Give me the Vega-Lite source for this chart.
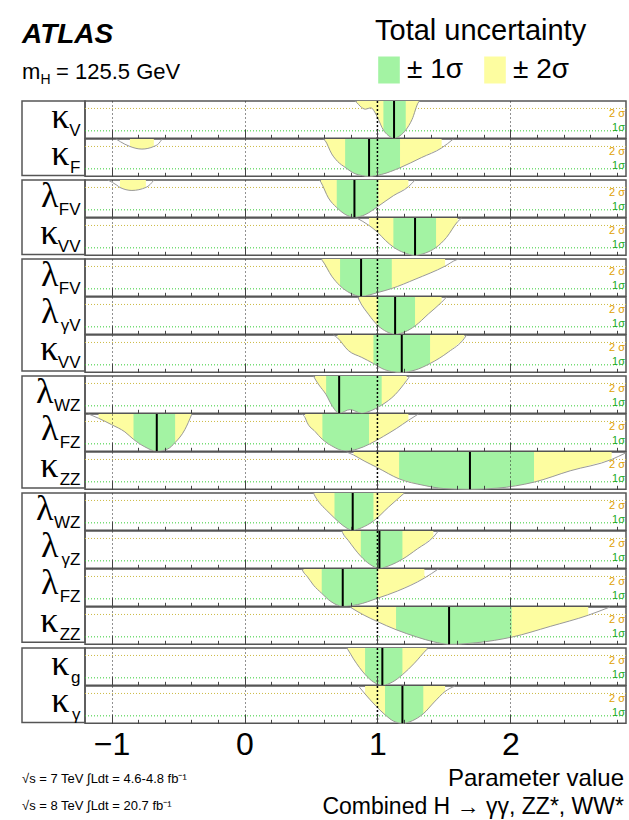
{
"$schema": "https://vega.github.io/schema/vega-lite/v6.json",
"padding": {"left": 21, "top": 17, "right": 4, "bottom": 0},
"spacing": -4,
"config": {"font": "Liberation Sans", "view": {"stroke": "#555", "strokeWidth": 1.5}},
"datasets": {
"labels": [
{"g":1,"r":"kV","sym":"κ","sub":"V"},{"g":1,"r":"kF","sym":"κ","sub":"F"},
{"g":2,"r":"lFV2","sym":"λ","sub":"FV"},{"g":2,"r":"kVV2","sym":"κ","sub":"VV"},
{"g":3,"r":"lFV3","sym":"λ","sub":"FV"},{"g":3,"r":"lgV","sym":"λ","sub":"γV"},{"g":3,"r":"kVV3","sym":"κ","sub":"VV"},
{"g":4,"r":"lWZ4","sym":"λ","sub":"WZ"},{"g":4,"r":"lFZ4","sym":"λ","sub":"FZ"},{"g":4,"r":"kZZ4","sym":"κ","sub":"ZZ"},
{"g":5,"r":"lWZ5","sym":"λ","sub":"WZ"},{"g":5,"r":"lgZ","sym":"λ","sub":"γZ"},{"g":5,"r":"lFZ5","sym":"λ","sub":"FZ"},{"g":5,"r":"kZZ5","sym":"κ","sub":"ZZ"},
{"g":6,"r":"kg","sym":"κ","sub":"g"},{"g":6,"r":"kgam","sym":"κ","sub":"γ"}
],
"fits": [
{"r":"kV","best":1.125},{"r":"kF","best":0.937},{"r":"lFV2","best":0.827},{"r":"kVV2","best":1.283},
{"r":"lFV3","best":0.877},{"r":"lgV","best":1.133},{"r":"kVV3","best":1.183},
{"r":"lWZ4","best":0.712},{"r":"lFZ4","best":-0.66},{"r":"kZZ4","best":1.696},
{"r":"lWZ5","best":0.814},{"r":"lgZ","best":1.015},{"r":"lFZ5","best":0.739},{"r":"kZZ5","best":1.539},
{"r":"kg","best":1.037},{"r":"kgam","best":1.188}
],
"curves": [
{"r":"kV","x":0.83,"y":5,"b":0},{"r":"kV","x":0.844,"y":4.8,"b":2},{"r":"kV","x":0.87,"y":4.3,"b":2},{"r":"kV","x":0.91,"y":3.9,"b":2},{"r":"kV","x":0.95,"y":4.1,"b":2},{"r":"kV","x":0.98,"y":3.5,"b":2},{"r":"kV","x":1.0,"y":2.8,"b":2},{"r":"kV","x":1.045,"y":1.1,"b":1},{"r":"kV","x":1.08,"y":0.4,"b":1},{"r":"kV","x":1.125,"y":0,"b":1},{"r":"kV","x":1.17,"y":0.35,"b":1},{"r":"kV","x":1.213,"y":1.1,"b":1},{"r":"kV","x":1.26,"y":2.5,"b":2},{"r":"kV","x":1.31,"y":4.85,"b":2},{"r":"kV","x":1.32,"y":5,"b":0},
{"r":"kF","x":0.594,"y":5,"b":0},{"r":"kF","x":0.606,"y":4.8,"b":2},{"r":"kF","x":0.656,"y":3.0,"b":2},{"r":"kF","x":0.70,"y":2.0,"b":2},{"r":"kF","x":0.757,"y":1.2,"b":1},{"r":"kF","x":0.832,"y":0.35,"b":1},{"r":"kF","x":0.937,"y":0,"b":1},{"r":"kF","x":1.03,"y":0.25,"b":1},{"r":"kF","x":1.17,"y":1.15,"b":1},{"r":"kF","x":1.33,"y":2.5,"b":2},{"r":"kF","x":1.483,"y":3.8,"b":2},{"r":"kF","x":1.571,"y":5,"b":0},
{"r":"kFb","x":-0.967,"y":5,"b":0},{"r":"kFb","x":-0.9,"y":4.3,"b":0},{"r":"kFb","x":-0.862,"y":4.0,"b":2},{"r":"kFb","x":-0.772,"y":3.65,"b":2},{"r":"kFb","x":-0.682,"y":4.0,"b":2},{"r":"kFb","x":-0.645,"y":4.4,"b":0},{"r":"kFb","x":-0.62,"y":5,"b":0},
{"r":"lFV2","x":0.564,"y":5,"b":0},{"r":"lFV2","x":0.575,"y":4.7,"b":2},{"r":"lFV2","x":0.631,"y":2.6,"b":2},{"r":"lFV2","x":0.694,"y":1.3,"b":1},{"r":"lFV2","x":0.757,"y":0.4,"b":1},{"r":"lFV2","x":0.827,"y":0,"b":1},{"r":"lFV2","x":0.907,"y":0.35,"b":1},{"r":"lFV2","x":1.007,"y":1.5,"b":1},{"r":"lFV2","x":1.12,"y":2.9,"b":2},{"r":"lFV2","x":1.233,"y":4.1,"b":2},{"r":"lFV2","x":1.283,"y":5,"b":0},
{"r":"lFV2b","x":-1.028,"y":5,"b":0},{"r":"lFV2b","x":-0.96,"y":4.3,"b":0},{"r":"lFV2b","x":-0.937,"y":4.0,"b":2},{"r":"lFV2b","x":-0.847,"y":3.6,"b":2},{"r":"lFV2b","x":-0.742,"y":4.0,"b":2},{"r":"lFV2b","x":-0.71,"y":4.4,"b":0},{"r":"lFV2b","x":-0.682,"y":5,"b":0},
{"r":"kVV2","x":0.844,"y":5,"b":0},{"r":"kVV2","x":0.937,"y":4.0,"b":2},{"r":"kVV2","x":1.0,"y":3.1,"b":2},{"r":"kVV2","x":1.06,"y":2.0,"b":2},{"r":"kVV2","x":1.12,"y":1.1,"b":1},{"r":"kVV2","x":1.2,"y":0.35,"b":1},{"r":"kVV2","x":1.283,"y":0,"b":1},{"r":"kVV2","x":1.36,"y":0.3,"b":1},{"r":"kVV2","x":1.441,"y":1.05,"b":1},{"r":"kVV2","x":1.52,"y":2.4,"b":2},{"r":"kVV2","x":1.603,"y":4.5,"b":2},{"r":"kVV2","x":1.634,"y":5,"b":0},
{"r":"lFV3","x":0.575,"y":5,"b":0},{"r":"lFV3","x":0.585,"y":4.8,"b":2},{"r":"lFV3","x":0.656,"y":2.7,"b":2},{"r":"lFV3","x":0.719,"y":1.4,"b":1},{"r":"lFV3","x":0.794,"y":0.44,"b":1},{"r":"lFV3","x":0.877,"y":0,"b":1},{"r":"lFV3","x":1.007,"y":0.53,"b":1},{"r":"lFV3","x":1.108,"y":1.05,"b":1},{"r":"lFV3","x":1.283,"y":2.28,"b":2},{"r":"lFV3","x":1.509,"y":4.04,"b":2},{"r":"lFV3","x":1.596,"y":4.9,"b":0},{"r":"lFV3","x":1.62,"y":5,"b":0},
{"r":"lgV","x":0.852,"y":5,"b":0},{"r":"lgV","x":0.862,"y":4.6,"b":2},{"r":"lgV","x":0.932,"y":2.7,"b":2},{"r":"lgV","x":1.002,"y":1.2,"b":1},{"r":"lgV","x":1.07,"y":0.34,"b":1},{"r":"lgV","x":1.133,"y":0,"b":1},{"r":"lgV","x":1.208,"y":0.34,"b":1},{"r":"lgV","x":1.283,"y":1.12,"b":1},{"r":"lgV","x":1.383,"y":2.72,"b":2},{"r":"lgV","x":1.483,"y":4.3,"b":2},{"r":"lgV","x":1.521,"y":5,"b":0},
{"r":"kVV3","x":0.669,"y":5,"b":0},{"r":"kVV3","x":0.70,"y":4.6,"b":2},{"r":"kVV3","x":0.782,"y":2.9,"b":2},{"r":"kVV3","x":0.882,"y":2.0,"b":2},{"r":"kVV3","x":0.97,"y":1.18,"b":1},{"r":"kVV3","x":1.032,"y":0.53,"b":1},{"r":"kVV3","x":1.108,"y":0.09,"b":1},{"r":"kVV3","x":1.183,"y":0,"b":1},{"r":"kVV3","x":1.283,"y":0.3,"b":1},{"r":"kVV3","x":1.396,"y":1.18,"b":1},{"r":"kVV3","x":1.534,"y":2.72,"b":2},{"r":"kVV3","x":1.654,"y":4.56,"b":2},{"r":"kVV3","x":1.671,"y":5,"b":0},
{"r":"lWZ4","x":0.519,"y":5,"b":0},{"r":"lWZ4","x":0.531,"y":4.6,"b":2},{"r":"lWZ4","x":0.56,"y":3.8,"b":2},{"r":"lWZ4","x":0.614,"y":2.5,"b":1},{"r":"lWZ4","x":0.656,"y":1.1,"b":1},{"r":"lWZ4","x":0.712,"y":0,"b":1},{"r":"lWZ4","x":0.794,"y":0.5,"b":1},{"r":"lWZ4","x":0.882,"y":0,"b":1},{"r":"lWZ4","x":0.944,"y":0.3,"b":1},{"r":"lWZ4","x":1.032,"y":1.1,"b":1},{"r":"lWZ4","x":1.133,"y":2.5,"b":2},{"r":"lWZ4","x":1.22,"y":4.4,"b":2},{"r":"lWZ4","x":1.245,"y":5,"b":0},
{"r":"lFZ4","x":0.431,"y":5,"b":0},{"r":"lFZ4","x":0.456,"y":4.5,"b":2},{"r":"lFZ4","x":0.47,"y":3.9,"b":2},{"r":"lFZ4","x":0.531,"y":2.65,"b":2},{"r":"lFZ4","x":0.586,"y":1.6,"b":1},{"r":"lFZ4","x":0.656,"y":0.73,"b":1},{"r":"lFZ4","x":0.757,"y":0.05,"b":1},{"r":"lFZ4","x":0.849,"y":0.3,"b":1},{"r":"lFZ4","x":0.937,"y":0.94,"b":1},{"r":"lFZ4","x":1.045,"y":2.0,"b":2},{"r":"lFZ4","x":1.145,"y":3.08,"b":2},{"r":"lFZ4","x":1.233,"y":4.15,"b":2},{"r":"lFZ4","x":1.308,"y":5,"b":0},
{"r":"lFZ4b","x":-1.173,"y":5,"b":0},{"r":"lFZ4b","x":-1.098,"y":4.43,"b":2},{"r":"lFZ4b","x":-1.0,"y":3.57,"b":2},{"r":"lFZ4b","x":-0.9,"y":2.6,"b":2},{"r":"lFZ4b","x":-0.835,"y":1.6,"b":1},{"r":"lFZ4b","x":-0.75,"y":0.6,"b":1},{"r":"lFZ4b","x":-0.66,"y":0,"b":1},{"r":"lFZ4b","x":-0.579,"y":0.3,"b":1},{"r":"lFZ4b","x":-0.522,"y":1.17,"b":1},{"r":"lFZ4b","x":-0.449,"y":2.9,"b":2},{"r":"lFZ4b","x":-0.396,"y":5,"b":2},
{"r":"kZZ4","x":0.769,"y":5,"b":0},{"r":"kZZ4","x":0.82,"y":4.6,"b":2},{"r":"kZZ4","x":0.9,"y":3.8,"b":2},{"r":"kZZ4","x":1.0,"y":2.9,"b":2},{"r":"kZZ4","x":1.163,"y":1.4,"b":1},{"r":"kZZ4","x":1.351,"y":0.52,"b":1},{"r":"kZZ4","x":1.5,"y":0.1,"b":1},{"r":"kZZ4","x":1.696,"y":0,"b":1},{"r":"kZZ4","x":1.9,"y":0.15,"b":1},{"r":"kZZ4","x":2.178,"y":0.96,"b":1},{"r":"kZZ4","x":2.45,"y":2.48,"b":2},{"r":"kZZ4","x":2.762,"y":4.0,"b":2},{"r":"kZZ4","x":2.87,"y":4.9,"b":0},
{"r":"lWZ5","x":0.519,"y":5,"b":0},{"r":"lWZ5","x":0.524,"y":4.8,"b":2},{"r":"lWZ5","x":0.561,"y":3.76,"b":2},{"r":"lWZ5","x":0.619,"y":2.65,"b":2},{"r":"lWZ5","x":0.677,"y":1.64,"b":1},{"r":"lWZ5","x":0.739,"y":0.66,"b":1},{"r":"lWZ5","x":0.814,"y":0,"b":1},{"r":"lWZ5","x":0.882,"y":0.35,"b":1},{"r":"lWZ5","x":0.97,"y":1.24,"b":1},{"r":"lWZ5","x":1.083,"y":3.1,"b":2},{"r":"lWZ5","x":1.203,"y":5,"b":2},
{"r":"lgZ","x":0.732,"y":5,"b":0},{"r":"lgZ","x":0.737,"y":4.8,"b":2},{"r":"lgZ","x":0.782,"y":3.7,"b":2},{"r":"lgZ","x":0.875,"y":1.61,"b":1},{"r":"lgZ","x":0.94,"y":0.57,"b":1},{"r":"lgZ","x":1.015,"y":0,"b":1},{"r":"lgZ","x":1.1,"y":0.43,"b":1},{"r":"lgZ","x":1.188,"y":1.22,"b":1},{"r":"lgZ","x":1.3,"y":2.6,"b":2},{"r":"lgZ","x":1.421,"y":4.2,"b":2},{"r":"lgZ","x":1.458,"y":5,"b":0},
{"r":"lFZ5","x":0.431,"y":5,"b":0},{"r":"lFZ5","x":0.443,"y":4.6,"b":2},{"r":"lFZ5","x":0.47,"y":4.04,"b":2},{"r":"lFZ5","x":0.519,"y":2.83,"b":2},{"r":"lFZ5","x":0.581,"y":1.74,"b":1},{"r":"lFZ5","x":0.649,"y":0.65,"b":1},{"r":"lFZ5","x":0.739,"y":0,"b":1},{"r":"lFZ5","x":0.849,"y":0.22,"b":1},{"r":"lFZ5","x":1.002,"y":1.09,"b":1},{"r":"lFZ5","x":1.15,"y":2.04,"b":2},{"r":"lFZ5","x":1.353,"y":3.78,"b":2},{"r":"lFZ5","x":1.458,"y":5,"b":0},
{"r":"kZZ5","x":0.794,"y":5,"b":0},{"r":"kZZ5","x":0.807,"y":4.85,"b":2},{"r":"kZZ5","x":0.9,"y":3.9,"b":2},{"r":"kZZ5","x":1.0,"y":3.04,"b":2},{"r":"kZZ5","x":1.14,"y":1.96,"b":1},{"r":"kZZ5","x":1.3,"y":0.96,"b":1},{"r":"kZZ5","x":1.42,"y":0.35,"b":1},{"r":"kZZ5","x":1.539,"y":0,"b":1},{"r":"kZZ5","x":1.749,"y":0.22,"b":1},{"r":"kZZ5","x":2.01,"y":0.96,"b":1},{"r":"kZZ5","x":2.3,"y":2.4,"b":2},{"r":"kZZ5","x":2.586,"y":3.9,"b":2},{"r":"kZZ5","x":2.749,"y":5,"b":0},
{"r":"kg","x":0.769,"y":5,"b":0},{"r":"kg","x":0.777,"y":4.8,"b":2},{"r":"kg","x":0.82,"y":3.54,"b":2},{"r":"kg","x":0.907,"y":1.46,"b":1},{"r":"kg","x":0.97,"y":0.44,"b":1},{"r":"kg","x":1.037,"y":0,"b":1},{"r":"kg","x":1.113,"y":0.44,"b":1},{"r":"kg","x":1.188,"y":1.42,"b":1},{"r":"kg","x":1.278,"y":2.96,"b":2},{"r":"kg","x":1.371,"y":4.8,"b":2},{"r":"kg","x":1.383,"y":5,"b":0},
{"r":"kgam","x":0.857,"y":5,"b":0},{"r":"kgam","x":0.907,"y":3.93,"b":2},{"r":"kgam","x":0.982,"y":2.44,"b":2},{"r":"kgam","x":1.057,"y":1.15,"b":1},{"r":"kgam","x":1.12,"y":0.3,"b":1},{"r":"kgam","x":1.188,"y":0,"b":1},{"r":"kgam","x":1.263,"y":0.35,"b":1},{"r":"kgam","x":1.345,"y":1.28,"b":1},{"r":"kgam","x":1.428,"y":2.86,"b":2},{"r":"kgam","x":1.509,"y":4.27,"b":2},{"r":"kgam","x":1.584,"y":5,"b":0}
]
},
"vconcat": [
{"width": 604, "height": 84, "view": {"stroke": null}, "data": {"values": [{}]},
 "layer": [
  {"mark": {"type": "text", "text": "ATLAS", "align": "left", "baseline": "alphabetic", "dx": -302, "dy": -16, "fontSize": 28, "fontWeight": "bold", "fontStyle": "italic"}, "encoding": {}},
  {"mark": {"type": "text", "text": "m", "align": "left", "baseline": "alphabetic", "dx": -302, "dy": 20, "fontSize": 22}, "encoding": {}},
  {"mark": {"type": "text", "text": "H", "align": "left", "baseline": "alphabetic", "dx": -283.5, "dy": 25, "fontSize": 14}, "encoding": {}},
  {"mark": {"type": "text", "text": "= 125.5 GeV", "align": "left", "baseline": "alphabetic", "dx": -268, "dy": 20, "fontSize": 22}, "encoding": {}}
 ]},
{"spacing": 0, "bounds": "flush", "hconcat": [
 {"width": 63, "height": 74.6, "data": {"name": "labels"}, "transform": [{"filter": {"field": "g", "equal": 1}}],
  "encoding": {"y": {"field": "r", "type": "nominal", "sort": null, "axis": null}},
  "layer": [
   {"mark": {"type": "text", "align": "right", "baseline": "alphabetic", "dx": 27, "dy": 16, "fontSize": 17}, "encoding": {"text": {"field": "sub"}}},
   {"transform": [{"filter": "length(datum.sub) == 1"}], "mark": {"type": "text", "align": "right", "baseline": "alphabetic", "dx": 16, "dy": 8, "fontSize": 36, "font": "Liberation Serif"}, "encoding": {"text": {"field": "sym"}}},
   {"transform": [{"filter": "length(datum.sub) == 2 && datum.sub != 'WZ'"}], "mark": {"type": "text", "align": "right", "baseline": "alphabetic", "dx": 5, "dy": 8, "fontSize": 36, "font": "Liberation Serif"}, "encoding": {"text": {"field": "sym"}}},
   {"transform": [{"filter": "datum.sub == 'WZ'"}], "mark": {"type": "text", "align": "right", "baseline": "alphabetic", "dx": 0, "dy": 8, "fontSize": 36, "font": "Liberation Serif"}, "encoding": {"text": {"field": "sym"}}}
  ]},
 {"spacing": 0, "bounds": "flush", "vconcat": [
  {"width": 541, "height": 37.3, "resolve": {"axis": {"x": "independent"}}, "layer": [
   {"data": {"values": [{}]}, "mark": {"type": "rule", "color": "#ccbb44", "strokeDash": [1, 2], "strokeWidth": 1}, "encoding": {"y": {"datum": 4, "type": "quantitative", "scale": {"domain": [0, 5], "nice": false, "zero": false}, "axis": null}}},
   {"data": {"values": [{}]}, "mark": {"type": "rule", "color": "#33cc33", "strokeDash": [1, 2], "strokeWidth": 1}, "encoding": {"y": {"datum": 1, "type": "quantitative", "axis": null}}},
   {"data": {"name": "curves"}, "transform": [{"filter": {"field": "r", "equal": "kV"}}, {"filter": "datum.b > 0"}], "mark": {"type": "area", "opacity": 1, "interpolate": "monotone"}, "encoding": {"x": {"field": "x", "type": "quantitative", "scale": {"domain": [-1.2, 2.87], "nice": false, "zero": false}, "axis": {"orient": "bottom", "values": [-1,-0.8,-0.6,-0.4,-0.2,0,0.2,0.4,0.6,0.8,1,1.2,1.4,1.6,1.8,2,2.2,2.4,2.6,2.8], "offset": -4, "tickSize": 4, "tickColor": "#444", "domain": false, "labels": false, "grid": false, "title": null, "zindex": 1}}, "y": {"field": "y", "type": "quantitative", "axis": null}, "y2": {"datum": 5}, "detail": {"field": "r"}, "color": {"datum": "± 2σ", "scale": {"domain": ["± 1σ", "± 2σ"], "range": ["#a3f3a3", "#fdfda0"]}, "legend": {"title": "Total uncertainty", "titleLimit": 400, "orient": "none", "legendX": 353, "legendY": 0, "direction": "horizontal", "columns": 2, "symbolType": "M-0.8,-1H0.8V1H-0.8Z", "symbolSize": 729, "symbolStrokeWidth": 0, "symbolOpacity": 1, "labelFontSize": 28, "labelColor": "#000", "titleFontSize": 29, "titleFontWeight": "normal", "titleColor": "#000", "titlePadding": 10, "columnPadding": 18, "labelOffset": 4, "padding": 0}}}},
   {"data": {"name": "curves"}, "transform": [{"filter": {"field": "r", "equal": "kV"}}, {"filter": "datum.b == 1"}], "mark": {"type": "area", "opacity": 1, "interpolate": "monotone"}, "encoding": {"x": {"field": "x", "type": "quantitative", "axis": {"orient": "bottom", "values": [-1,0,1,2], "offset": -9, "tickSize": 9, "tickColor": "#444", "domain": false, "labels": false, "grid": false, "title": null, "zindex": 1}}, "y": {"field": "y", "type": "quantitative", "axis": null}, "y2": {"datum": 5}, "detail": {"field": "r"}, "color": {"datum": "± 1σ"}}},
   {"data": {"name": "curves"}, "transform": [{"filter": {"field": "r", "equal": "kV"}}], "mark": {"type": "line", "color": "#999", "strokeWidth": 1, "interpolate": "monotone"}, "encoding": {"x": {"field": "x", "type": "quantitative", "axis": {"orient": "bottom", "values": [-1,0,2], "ticks": false, "domain": false, "labels": false, "grid": true, "gridDash": [1, 3], "gridColor": "#222", "title": null, "zindex": 1}}, "y": {"field": "y", "type": "quantitative", "axis": null}, "detail": {"field": "r"}}},
   {"data": {"values": [{}]}, "mark": {"type": "rule", "color": "#000", "strokeDash": [2, 2], "strokeWidth": 1.5}, "encoding": {"x": {"datum": 1, "type": "quantitative", "axis": null}}},
   {"data": {"name": "fits"}, "transform": [{"filter": {"field": "r", "equal": "kV"}}], "mark": {"type": "rule", "color": "#000", "strokeWidth": 2}, "encoding": {"x": {"field": "best", "type": "quantitative", "axis": null}}},
   {"data": {"values": [{}]}, "mark": {"type": "text", "text": "2 σ", "align": "right", "baseline": "top", "dx": -1, "dy": 0, "fontSize": 11, "color": "#e0a000"}, "encoding": {"x": {"datum": 2.87, "type": "quantitative", "axis": null}, "y": {"datum": 4, "type": "quantitative", "axis": null}}},
   {"data": {"values": [{}]}, "mark": {"type": "text", "text": "1σ", "align": "right", "baseline": "bottom", "dx": -1, "dy": 2, "fontSize": 11, "color": "#22aa22"}, "encoding": {"x": {"datum": 2.87, "type": "quantitative", "axis": null}, "y": {"datum": 1, "type": "quantitative", "axis": null}}}
  ]},
  {"width": 541, "height": 37.3, "resolve": {"axis": {"x": "independent"}}, "layer": [
   {"data": {"values": [{}]}, "mark": {"type": "rule", "color": "#ccbb44", "strokeDash": [1, 2], "strokeWidth": 1}, "encoding": {"y": {"datum": 4, "type": "quantitative", "scale": {"domain": [0, 5], "nice": false, "zero": false}, "axis": null}}},
   {"data": {"values": [{}]}, "mark": {"type": "rule", "color": "#33cc33", "strokeDash": [1, 2], "strokeWidth": 1}, "encoding": {"y": {"datum": 1, "type": "quantitative", "axis": null}}},
   {"data": {"name": "curves"}, "transform": [{"filter": {"field": "r", "oneOf": ["kF", "kFb"]}}, {"filter": "datum.b > 0"}], "mark": {"type": "area", "opacity": 1, "interpolate": "monotone"}, "encoding": {"x": {"field": "x", "type": "quantitative", "scale": {"domain": [-1.2, 2.87], "nice": false, "zero": false}, "axis": {"orient": "bottom", "values": [-1,-0.8,-0.6,-0.4,-0.2,0,0.2,0.4,0.6,0.8,1,1.2,1.4,1.6,1.8,2,2.2,2.4,2.6,2.8], "offset": -4, "tickSize": 4, "tickColor": "#444", "domain": false, "labels": false, "grid": false, "title": null, "zindex": 1}}, "y": {"field": "y", "type": "quantitative", "axis": null}, "y2": {"datum": 5}, "detail": {"field": "r"}, "color": {"datum": "± 2σ"}}},
   {"data": {"name": "curves"}, "transform": [{"filter": {"field": "r", "oneOf": ["kF", "kFb"]}}, {"filter": "datum.b == 1"}], "mark": {"type": "area", "opacity": 1, "interpolate": "monotone"}, "encoding": {"x": {"field": "x", "type": "quantitative", "axis": {"orient": "bottom", "values": [-1,0,1,2], "offset": -9, "tickSize": 9, "tickColor": "#444", "domain": false, "labels": false, "grid": false, "title": null, "zindex": 1}}, "y": {"field": "y", "type": "quantitative", "axis": null}, "y2": {"datum": 5}, "detail": {"field": "r"}, "color": {"datum": "± 1σ"}}},
   {"data": {"name": "curves"}, "transform": [{"filter": {"field": "r", "oneOf": ["kF", "kFb"]}}], "mark": {"type": "line", "color": "#999", "strokeWidth": 1, "interpolate": "monotone"}, "encoding": {"x": {"field": "x", "type": "quantitative", "axis": {"orient": "bottom", "values": [-1,0,2], "ticks": false, "domain": false, "labels": false, "grid": true, "gridDash": [1, 3], "gridColor": "#222", "title": null, "zindex": 1}}, "y": {"field": "y", "type": "quantitative", "axis": null}, "detail": {"field": "r"}}},
   {"data": {"values": [{}]}, "mark": {"type": "rule", "color": "#000", "strokeDash": [2, 2], "strokeWidth": 1.5}, "encoding": {"x": {"datum": 1, "type": "quantitative", "axis": null}}},
   {"data": {"name": "fits"}, "transform": [{"filter": {"field": "r", "equal": "kF"}}], "mark": {"type": "rule", "color": "#000", "strokeWidth": 2}, "encoding": {"x": {"field": "best", "type": "quantitative", "axis": null}}},
   {"data": {"values": [{}]}, "mark": {"type": "text", "text": "2 σ", "align": "right", "baseline": "top", "dx": -1, "dy": 0, "fontSize": 11, "color": "#e0a000"}, "encoding": {"x": {"datum": 2.87, "type": "quantitative", "axis": null}, "y": {"datum": 4, "type": "quantitative", "axis": null}}},
   {"data": {"values": [{}]}, "mark": {"type": "text", "text": "1σ", "align": "right", "baseline": "bottom", "dx": -1, "dy": 2, "fontSize": 11, "color": "#22aa22"}, "encoding": {"x": {"datum": 2.87, "type": "quantitative", "axis": null}, "y": {"datum": 1, "type": "quantitative", "axis": null}}}
  ]}
 ]}
]},
{"spacing": 0, "bounds": "flush", "hconcat": [
 {"width": 63, "height": 74.6, "data": {"name": "labels"}, "transform": [{"filter": {"field": "g", "equal": 2}}],
  "encoding": {"y": {"field": "r", "type": "nominal", "sort": null, "axis": null}},
  "layer": [
   {"mark": {"type": "text", "align": "right", "baseline": "alphabetic", "dx": 27, "dy": 16, "fontSize": 17}, "encoding": {"text": {"field": "sub"}}},
   {"transform": [{"filter": "length(datum.sub) == 1"}], "mark": {"type": "text", "align": "right", "baseline": "alphabetic", "dx": 16, "dy": 8, "fontSize": 36, "font": "Liberation Serif"}, "encoding": {"text": {"field": "sym"}}},
   {"transform": [{"filter": "length(datum.sub) == 2 && datum.sub != 'WZ'"}], "mark": {"type": "text", "align": "right", "baseline": "alphabetic", "dx": 5, "dy": 8, "fontSize": 36, "font": "Liberation Serif"}, "encoding": {"text": {"field": "sym"}}},
   {"transform": [{"filter": "datum.sub == 'WZ'"}], "mark": {"type": "text", "align": "right", "baseline": "alphabetic", "dx": 0, "dy": 8, "fontSize": 36, "font": "Liberation Serif"}, "encoding": {"text": {"field": "sym"}}}
  ]},
 {"spacing": 0, "bounds": "flush", "vconcat": [
  {"width": 541, "height": 37.3, "resolve": {"axis": {"x": "independent"}}, "layer": [
   {"data": {"values": [{}]}, "mark": {"type": "rule", "color": "#ccbb44", "strokeDash": [1, 2], "strokeWidth": 1}, "encoding": {"y": {"datum": 4, "type": "quantitative", "scale": {"domain": [0, 5], "nice": false, "zero": false}, "axis": null}}},
   {"data": {"values": [{}]}, "mark": {"type": "rule", "color": "#33cc33", "strokeDash": [1, 2], "strokeWidth": 1}, "encoding": {"y": {"datum": 1, "type": "quantitative", "axis": null}}},
   {"data": {"name": "curves"}, "transform": [{"filter": {"field": "r", "oneOf": ["lFV2", "lFV2b"]}}, {"filter": "datum.b > 0"}], "mark": {"type": "area", "opacity": 1, "interpolate": "monotone"}, "encoding": {"x": {"field": "x", "type": "quantitative", "scale": {"domain": [-1.2, 2.87], "nice": false, "zero": false}, "axis": {"orient": "bottom", "values": [-1,-0.8,-0.6,-0.4,-0.2,0,0.2,0.4,0.6,0.8,1,1.2,1.4,1.6,1.8,2,2.2,2.4,2.6,2.8], "offset": -4, "tickSize": 4, "tickColor": "#444", "domain": false, "labels": false, "grid": false, "title": null, "zindex": 1}}, "y": {"field": "y", "type": "quantitative", "axis": null}, "y2": {"datum": 5}, "detail": {"field": "r"}, "color": {"datum": "± 2σ"}}},
   {"data": {"name": "curves"}, "transform": [{"filter": {"field": "r", "oneOf": ["lFV2", "lFV2b"]}}, {"filter": "datum.b == 1"}], "mark": {"type": "area", "opacity": 1, "interpolate": "monotone"}, "encoding": {"x": {"field": "x", "type": "quantitative", "axis": {"orient": "bottom", "values": [-1,0,1,2], "offset": -9, "tickSize": 9, "tickColor": "#444", "domain": false, "labels": false, "grid": false, "title": null, "zindex": 1}}, "y": {"field": "y", "type": "quantitative", "axis": null}, "y2": {"datum": 5}, "detail": {"field": "r"}, "color": {"datum": "± 1σ"}}},
   {"data": {"name": "curves"}, "transform": [{"filter": {"field": "r", "oneOf": ["lFV2", "lFV2b"]}}], "mark": {"type": "line", "color": "#999", "strokeWidth": 1, "interpolate": "monotone"}, "encoding": {"x": {"field": "x", "type": "quantitative", "axis": {"orient": "bottom", "values": [-1,0,2], "ticks": false, "domain": false, "labels": false, "grid": true, "gridDash": [1, 3], "gridColor": "#222", "title": null, "zindex": 1}}, "y": {"field": "y", "type": "quantitative", "axis": null}, "detail": {"field": "r"}}},
   {"data": {"values": [{}]}, "mark": {"type": "rule", "color": "#000", "strokeDash": [2, 2], "strokeWidth": 1.5}, "encoding": {"x": {"datum": 1, "type": "quantitative", "axis": null}}},
   {"data": {"name": "fits"}, "transform": [{"filter": {"field": "r", "equal": "lFV2"}}], "mark": {"type": "rule", "color": "#000", "strokeWidth": 2}, "encoding": {"x": {"field": "best", "type": "quantitative", "axis": null}}},
   {"data": {"values": [{}]}, "mark": {"type": "text", "text": "2 σ", "align": "right", "baseline": "top", "dx": -1, "dy": 0, "fontSize": 11, "color": "#e0a000"}, "encoding": {"x": {"datum": 2.87, "type": "quantitative", "axis": null}, "y": {"datum": 4, "type": "quantitative", "axis": null}}},
   {"data": {"values": [{}]}, "mark": {"type": "text", "text": "1σ", "align": "right", "baseline": "bottom", "dx": -1, "dy": 2, "fontSize": 11, "color": "#22aa22"}, "encoding": {"x": {"datum": 2.87, "type": "quantitative", "axis": null}, "y": {"datum": 1, "type": "quantitative", "axis": null}}}
  ]},
  {"width": 541, "height": 37.3, "resolve": {"axis": {"x": "independent"}}, "layer": [
   {"data": {"values": [{}]}, "mark": {"type": "rule", "color": "#ccbb44", "strokeDash": [1, 2], "strokeWidth": 1}, "encoding": {"y": {"datum": 4, "type": "quantitative", "scale": {"domain": [0, 5], "nice": false, "zero": false}, "axis": null}}},
   {"data": {"values": [{}]}, "mark": {"type": "rule", "color": "#33cc33", "strokeDash": [1, 2], "strokeWidth": 1}, "encoding": {"y": {"datum": 1, "type": "quantitative", "axis": null}}},
   {"data": {"name": "curves"}, "transform": [{"filter": {"field": "r", "equal": "kVV2"}}, {"filter": "datum.b > 0"}], "mark": {"type": "area", "opacity": 1, "interpolate": "monotone"}, "encoding": {"x": {"field": "x", "type": "quantitative", "scale": {"domain": [-1.2, 2.87], "nice": false, "zero": false}, "axis": {"orient": "bottom", "values": [-1,-0.8,-0.6,-0.4,-0.2,0,0.2,0.4,0.6,0.8,1,1.2,1.4,1.6,1.8,2,2.2,2.4,2.6,2.8], "offset": -4, "tickSize": 4, "tickColor": "#444", "domain": false, "labels": false, "grid": false, "title": null, "zindex": 1}}, "y": {"field": "y", "type": "quantitative", "axis": null}, "y2": {"datum": 5}, "detail": {"field": "r"}, "color": {"datum": "± 2σ"}}},
   {"data": {"name": "curves"}, "transform": [{"filter": {"field": "r", "equal": "kVV2"}}, {"filter": "datum.b == 1"}], "mark": {"type": "area", "opacity": 1, "interpolate": "monotone"}, "encoding": {"x": {"field": "x", "type": "quantitative", "axis": {"orient": "bottom", "values": [-1,0,1,2], "offset": -9, "tickSize": 9, "tickColor": "#444", "domain": false, "labels": false, "grid": false, "title": null, "zindex": 1}}, "y": {"field": "y", "type": "quantitative", "axis": null}, "y2": {"datum": 5}, "detail": {"field": "r"}, "color": {"datum": "± 1σ"}}},
   {"data": {"name": "curves"}, "transform": [{"filter": {"field": "r", "equal": "kVV2"}}], "mark": {"type": "line", "color": "#999", "strokeWidth": 1, "interpolate": "monotone"}, "encoding": {"x": {"field": "x", "type": "quantitative", "axis": {"orient": "bottom", "values": [-1,0,2], "ticks": false, "domain": false, "labels": false, "grid": true, "gridDash": [1, 3], "gridColor": "#222", "title": null, "zindex": 1}}, "y": {"field": "y", "type": "quantitative", "axis": null}, "detail": {"field": "r"}}},
   {"data": {"values": [{}]}, "mark": {"type": "rule", "color": "#000", "strokeDash": [2, 2], "strokeWidth": 1.5}, "encoding": {"x": {"datum": 1, "type": "quantitative", "axis": null}}},
   {"data": {"name": "fits"}, "transform": [{"filter": {"field": "r", "equal": "kVV2"}}], "mark": {"type": "rule", "color": "#000", "strokeWidth": 2}, "encoding": {"x": {"field": "best", "type": "quantitative", "axis": null}}},
   {"data": {"values": [{}]}, "mark": {"type": "text", "text": "2 σ", "align": "right", "baseline": "top", "dx": -1, "dy": 0, "fontSize": 11, "color": "#e0a000"}, "encoding": {"x": {"datum": 2.87, "type": "quantitative", "axis": null}, "y": {"datum": 4, "type": "quantitative", "axis": null}}},
   {"data": {"values": [{}]}, "mark": {"type": "text", "text": "1σ", "align": "right", "baseline": "bottom", "dx": -1, "dy": 2, "fontSize": 11, "color": "#22aa22"}, "encoding": {"x": {"datum": 2.87, "type": "quantitative", "axis": null}, "y": {"datum": 1, "type": "quantitative", "axis": null}}}
  ]}
 ]}
]},
{"spacing": 0, "bounds": "flush", "hconcat": [
 {"width": 63, "height": 111.9, "data": {"name": "labels"}, "transform": [{"filter": {"field": "g", "equal": 3}}],
  "encoding": {"y": {"field": "r", "type": "nominal", "sort": null, "axis": null}},
  "layer": [
   {"mark": {"type": "text", "align": "right", "baseline": "alphabetic", "dx": 27, "dy": 16, "fontSize": 17}, "encoding": {"text": {"field": "sub"}}},
   {"transform": [{"filter": "length(datum.sub) == 1"}], "mark": {"type": "text", "align": "right", "baseline": "alphabetic", "dx": 16, "dy": 8, "fontSize": 36, "font": "Liberation Serif"}, "encoding": {"text": {"field": "sym"}}},
   {"transform": [{"filter": "length(datum.sub) == 2 && datum.sub != 'WZ'"}], "mark": {"type": "text", "align": "right", "baseline": "alphabetic", "dx": 5, "dy": 8, "fontSize": 36, "font": "Liberation Serif"}, "encoding": {"text": {"field": "sym"}}},
   {"transform": [{"filter": "datum.sub == 'WZ'"}], "mark": {"type": "text", "align": "right", "baseline": "alphabetic", "dx": 0, "dy": 8, "fontSize": 36, "font": "Liberation Serif"}, "encoding": {"text": {"field": "sym"}}}
  ]},
 {"spacing": 0, "bounds": "flush", "vconcat": [
  {"width": 541, "height": 37.3, "resolve": {"axis": {"x": "independent"}}, "layer": [
   {"data": {"values": [{}]}, "mark": {"type": "rule", "color": "#ccbb44", "strokeDash": [1, 2], "strokeWidth": 1}, "encoding": {"y": {"datum": 4, "type": "quantitative", "scale": {"domain": [0, 5], "nice": false, "zero": false}, "axis": null}}},
   {"data": {"values": [{}]}, "mark": {"type": "rule", "color": "#33cc33", "strokeDash": [1, 2], "strokeWidth": 1}, "encoding": {"y": {"datum": 1, "type": "quantitative", "axis": null}}},
   {"data": {"name": "curves"}, "transform": [{"filter": {"field": "r", "equal": "lFV3"}}, {"filter": "datum.b > 0"}], "mark": {"type": "area", "opacity": 1, "interpolate": "monotone"}, "encoding": {"x": {"field": "x", "type": "quantitative", "scale": {"domain": [-1.2, 2.87], "nice": false, "zero": false}, "axis": {"orient": "bottom", "values": [-1,-0.8,-0.6,-0.4,-0.2,0,0.2,0.4,0.6,0.8,1,1.2,1.4,1.6,1.8,2,2.2,2.4,2.6,2.8], "offset": -4, "tickSize": 4, "tickColor": "#444", "domain": false, "labels": false, "grid": false, "title": null, "zindex": 1}}, "y": {"field": "y", "type": "quantitative", "axis": null}, "y2": {"datum": 5}, "detail": {"field": "r"}, "color": {"datum": "± 2σ"}}},
   {"data": {"name": "curves"}, "transform": [{"filter": {"field": "r", "equal": "lFV3"}}, {"filter": "datum.b == 1"}], "mark": {"type": "area", "opacity": 1, "interpolate": "monotone"}, "encoding": {"x": {"field": "x", "type": "quantitative", "axis": {"orient": "bottom", "values": [-1,0,1,2], "offset": -9, "tickSize": 9, "tickColor": "#444", "domain": false, "labels": false, "grid": false, "title": null, "zindex": 1}}, "y": {"field": "y", "type": "quantitative", "axis": null}, "y2": {"datum": 5}, "detail": {"field": "r"}, "color": {"datum": "± 1σ"}}},
   {"data": {"name": "curves"}, "transform": [{"filter": {"field": "r", "equal": "lFV3"}}], "mark": {"type": "line", "color": "#999", "strokeWidth": 1, "interpolate": "monotone"}, "encoding": {"x": {"field": "x", "type": "quantitative", "axis": {"orient": "bottom", "values": [-1,0,2], "ticks": false, "domain": false, "labels": false, "grid": true, "gridDash": [1, 3], "gridColor": "#222", "title": null, "zindex": 1}}, "y": {"field": "y", "type": "quantitative", "axis": null}, "detail": {"field": "r"}}},
   {"data": {"values": [{}]}, "mark": {"type": "rule", "color": "#000", "strokeDash": [2, 2], "strokeWidth": 1.5}, "encoding": {"x": {"datum": 1, "type": "quantitative", "axis": null}}},
   {"data": {"name": "fits"}, "transform": [{"filter": {"field": "r", "equal": "lFV3"}}], "mark": {"type": "rule", "color": "#000", "strokeWidth": 2}, "encoding": {"x": {"field": "best", "type": "quantitative", "axis": null}}},
   {"data": {"values": [{}]}, "mark": {"type": "text", "text": "2 σ", "align": "right", "baseline": "top", "dx": -1, "dy": 0, "fontSize": 11, "color": "#e0a000"}, "encoding": {"x": {"datum": 2.87, "type": "quantitative", "axis": null}, "y": {"datum": 4, "type": "quantitative", "axis": null}}},
   {"data": {"values": [{}]}, "mark": {"type": "text", "text": "1σ", "align": "right", "baseline": "bottom", "dx": -1, "dy": 2, "fontSize": 11, "color": "#22aa22"}, "encoding": {"x": {"datum": 2.87, "type": "quantitative", "axis": null}, "y": {"datum": 1, "type": "quantitative", "axis": null}}}
  ]},
  {"width": 541, "height": 37.3, "resolve": {"axis": {"x": "independent"}}, "layer": [
   {"data": {"values": [{}]}, "mark": {"type": "rule", "color": "#ccbb44", "strokeDash": [1, 2], "strokeWidth": 1}, "encoding": {"y": {"datum": 4, "type": "quantitative", "scale": {"domain": [0, 5], "nice": false, "zero": false}, "axis": null}}},
   {"data": {"values": [{}]}, "mark": {"type": "rule", "color": "#33cc33", "strokeDash": [1, 2], "strokeWidth": 1}, "encoding": {"y": {"datum": 1, "type": "quantitative", "axis": null}}},
   {"data": {"name": "curves"}, "transform": [{"filter": {"field": "r", "equal": "lgV"}}, {"filter": "datum.b > 0"}], "mark": {"type": "area", "opacity": 1, "interpolate": "monotone"}, "encoding": {"x": {"field": "x", "type": "quantitative", "scale": {"domain": [-1.2, 2.87], "nice": false, "zero": false}, "axis": {"orient": "bottom", "values": [-1,-0.8,-0.6,-0.4,-0.2,0,0.2,0.4,0.6,0.8,1,1.2,1.4,1.6,1.8,2,2.2,2.4,2.6,2.8], "offset": -4, "tickSize": 4, "tickColor": "#444", "domain": false, "labels": false, "grid": false, "title": null, "zindex": 1}}, "y": {"field": "y", "type": "quantitative", "axis": null}, "y2": {"datum": 5}, "detail": {"field": "r"}, "color": {"datum": "± 2σ"}}},
   {"data": {"name": "curves"}, "transform": [{"filter": {"field": "r", "equal": "lgV"}}, {"filter": "datum.b == 1"}], "mark": {"type": "area", "opacity": 1, "interpolate": "monotone"}, "encoding": {"x": {"field": "x", "type": "quantitative", "axis": {"orient": "bottom", "values": [-1,0,1,2], "offset": -9, "tickSize": 9, "tickColor": "#444", "domain": false, "labels": false, "grid": false, "title": null, "zindex": 1}}, "y": {"field": "y", "type": "quantitative", "axis": null}, "y2": {"datum": 5}, "detail": {"field": "r"}, "color": {"datum": "± 1σ"}}},
   {"data": {"name": "curves"}, "transform": [{"filter": {"field": "r", "equal": "lgV"}}], "mark": {"type": "line", "color": "#999", "strokeWidth": 1, "interpolate": "monotone"}, "encoding": {"x": {"field": "x", "type": "quantitative", "axis": {"orient": "bottom", "values": [-1,0,2], "ticks": false, "domain": false, "labels": false, "grid": true, "gridDash": [1, 3], "gridColor": "#222", "title": null, "zindex": 1}}, "y": {"field": "y", "type": "quantitative", "axis": null}, "detail": {"field": "r"}}},
   {"data": {"values": [{}]}, "mark": {"type": "rule", "color": "#000", "strokeDash": [2, 2], "strokeWidth": 1.5}, "encoding": {"x": {"datum": 1, "type": "quantitative", "axis": null}}},
   {"data": {"name": "fits"}, "transform": [{"filter": {"field": "r", "equal": "lgV"}}], "mark": {"type": "rule", "color": "#000", "strokeWidth": 2}, "encoding": {"x": {"field": "best", "type": "quantitative", "axis": null}}},
   {"data": {"values": [{}]}, "mark": {"type": "text", "text": "2 σ", "align": "right", "baseline": "top", "dx": -1, "dy": 0, "fontSize": 11, "color": "#e0a000"}, "encoding": {"x": {"datum": 2.87, "type": "quantitative", "axis": null}, "y": {"datum": 4, "type": "quantitative", "axis": null}}},
   {"data": {"values": [{}]}, "mark": {"type": "text", "text": "1σ", "align": "right", "baseline": "bottom", "dx": -1, "dy": 2, "fontSize": 11, "color": "#22aa22"}, "encoding": {"x": {"datum": 2.87, "type": "quantitative", "axis": null}, "y": {"datum": 1, "type": "quantitative", "axis": null}}}
  ]},
  {"width": 541, "height": 37.3, "resolve": {"axis": {"x": "independent"}}, "layer": [
   {"data": {"values": [{}]}, "mark": {"type": "rule", "color": "#ccbb44", "strokeDash": [1, 2], "strokeWidth": 1}, "encoding": {"y": {"datum": 4, "type": "quantitative", "scale": {"domain": [0, 5], "nice": false, "zero": false}, "axis": null}}},
   {"data": {"values": [{}]}, "mark": {"type": "rule", "color": "#33cc33", "strokeDash": [1, 2], "strokeWidth": 1}, "encoding": {"y": {"datum": 1, "type": "quantitative", "axis": null}}},
   {"data": {"name": "curves"}, "transform": [{"filter": {"field": "r", "equal": "kVV3"}}, {"filter": "datum.b > 0"}], "mark": {"type": "area", "opacity": 1, "interpolate": "monotone"}, "encoding": {"x": {"field": "x", "type": "quantitative", "scale": {"domain": [-1.2, 2.87], "nice": false, "zero": false}, "axis": {"orient": "bottom", "values": [-1,-0.8,-0.6,-0.4,-0.2,0,0.2,0.4,0.6,0.8,1,1.2,1.4,1.6,1.8,2,2.2,2.4,2.6,2.8], "offset": -4, "tickSize": 4, "tickColor": "#444", "domain": false, "labels": false, "grid": false, "title": null, "zindex": 1}}, "y": {"field": "y", "type": "quantitative", "axis": null}, "y2": {"datum": 5}, "detail": {"field": "r"}, "color": {"datum": "± 2σ"}}},
   {"data": {"name": "curves"}, "transform": [{"filter": {"field": "r", "equal": "kVV3"}}, {"filter": "datum.b == 1"}], "mark": {"type": "area", "opacity": 1, "interpolate": "monotone"}, "encoding": {"x": {"field": "x", "type": "quantitative", "axis": {"orient": "bottom", "values": [-1,0,1,2], "offset": -9, "tickSize": 9, "tickColor": "#444", "domain": false, "labels": false, "grid": false, "title": null, "zindex": 1}}, "y": {"field": "y", "type": "quantitative", "axis": null}, "y2": {"datum": 5}, "detail": {"field": "r"}, "color": {"datum": "± 1σ"}}},
   {"data": {"name": "curves"}, "transform": [{"filter": {"field": "r", "equal": "kVV3"}}], "mark": {"type": "line", "color": "#999", "strokeWidth": 1, "interpolate": "monotone"}, "encoding": {"x": {"field": "x", "type": "quantitative", "axis": {"orient": "bottom", "values": [-1,0,2], "ticks": false, "domain": false, "labels": false, "grid": true, "gridDash": [1, 3], "gridColor": "#222", "title": null, "zindex": 1}}, "y": {"field": "y", "type": "quantitative", "axis": null}, "detail": {"field": "r"}}},
   {"data": {"values": [{}]}, "mark": {"type": "rule", "color": "#000", "strokeDash": [2, 2], "strokeWidth": 1.5}, "encoding": {"x": {"datum": 1, "type": "quantitative", "axis": null}}},
   {"data": {"name": "fits"}, "transform": [{"filter": {"field": "r", "equal": "kVV3"}}], "mark": {"type": "rule", "color": "#000", "strokeWidth": 2}, "encoding": {"x": {"field": "best", "type": "quantitative", "axis": null}}},
   {"data": {"values": [{}]}, "mark": {"type": "text", "text": "2 σ", "align": "right", "baseline": "top", "dx": -1, "dy": 0, "fontSize": 11, "color": "#e0a000"}, "encoding": {"x": {"datum": 2.87, "type": "quantitative", "axis": null}, "y": {"datum": 4, "type": "quantitative", "axis": null}}},
   {"data": {"values": [{}]}, "mark": {"type": "text", "text": "1σ", "align": "right", "baseline": "bottom", "dx": -1, "dy": 2, "fontSize": 11, "color": "#22aa22"}, "encoding": {"x": {"datum": 2.87, "type": "quantitative", "axis": null}, "y": {"datum": 1, "type": "quantitative", "axis": null}}}
  ]}
 ]}
]},
{"spacing": 0, "bounds": "flush", "hconcat": [
 {"width": 63, "height": 111.9, "data": {"name": "labels"}, "transform": [{"filter": {"field": "g", "equal": 4}}],
  "encoding": {"y": {"field": "r", "type": "nominal", "sort": null, "axis": null}},
  "layer": [
   {"mark": {"type": "text", "align": "right", "baseline": "alphabetic", "dx": 27, "dy": 16, "fontSize": 17}, "encoding": {"text": {"field": "sub"}}},
   {"transform": [{"filter": "length(datum.sub) == 1"}], "mark": {"type": "text", "align": "right", "baseline": "alphabetic", "dx": 16, "dy": 8, "fontSize": 36, "font": "Liberation Serif"}, "encoding": {"text": {"field": "sym"}}},
   {"transform": [{"filter": "length(datum.sub) == 2 && datum.sub != 'WZ'"}], "mark": {"type": "text", "align": "right", "baseline": "alphabetic", "dx": 5, "dy": 8, "fontSize": 36, "font": "Liberation Serif"}, "encoding": {"text": {"field": "sym"}}},
   {"transform": [{"filter": "datum.sub == 'WZ'"}], "mark": {"type": "text", "align": "right", "baseline": "alphabetic", "dx": 0, "dy": 8, "fontSize": 36, "font": "Liberation Serif"}, "encoding": {"text": {"field": "sym"}}}
  ]},
 {"spacing": 0, "bounds": "flush", "vconcat": [
  {"width": 541, "height": 37.3, "resolve": {"axis": {"x": "independent"}}, "layer": [
   {"data": {"values": [{}]}, "mark": {"type": "rule", "color": "#ccbb44", "strokeDash": [1, 2], "strokeWidth": 1}, "encoding": {"y": {"datum": 4, "type": "quantitative", "scale": {"domain": [0, 5], "nice": false, "zero": false}, "axis": null}}},
   {"data": {"values": [{}]}, "mark": {"type": "rule", "color": "#33cc33", "strokeDash": [1, 2], "strokeWidth": 1}, "encoding": {"y": {"datum": 1, "type": "quantitative", "axis": null}}},
   {"data": {"name": "curves"}, "transform": [{"filter": {"field": "r", "equal": "lWZ4"}}, {"filter": "datum.b > 0"}], "mark": {"type": "area", "opacity": 1, "interpolate": "monotone"}, "encoding": {"x": {"field": "x", "type": "quantitative", "scale": {"domain": [-1.2, 2.87], "nice": false, "zero": false}, "axis": {"orient": "bottom", "values": [-1,-0.8,-0.6,-0.4,-0.2,0,0.2,0.4,0.6,0.8,1,1.2,1.4,1.6,1.8,2,2.2,2.4,2.6,2.8], "offset": -4, "tickSize": 4, "tickColor": "#444", "domain": false, "labels": false, "grid": false, "title": null, "zindex": 1}}, "y": {"field": "y", "type": "quantitative", "axis": null}, "y2": {"datum": 5}, "detail": {"field": "r"}, "color": {"datum": "± 2σ"}}},
   {"data": {"name": "curves"}, "transform": [{"filter": {"field": "r", "equal": "lWZ4"}}, {"filter": "datum.b == 1"}], "mark": {"type": "area", "opacity": 1, "interpolate": "monotone"}, "encoding": {"x": {"field": "x", "type": "quantitative", "axis": {"orient": "bottom", "values": [-1,0,1,2], "offset": -9, "tickSize": 9, "tickColor": "#444", "domain": false, "labels": false, "grid": false, "title": null, "zindex": 1}}, "y": {"field": "y", "type": "quantitative", "axis": null}, "y2": {"datum": 5}, "detail": {"field": "r"}, "color": {"datum": "± 1σ"}}},
   {"data": {"name": "curves"}, "transform": [{"filter": {"field": "r", "equal": "lWZ4"}}], "mark": {"type": "line", "color": "#999", "strokeWidth": 1, "interpolate": "monotone"}, "encoding": {"x": {"field": "x", "type": "quantitative", "axis": {"orient": "bottom", "values": [-1,0,2], "ticks": false, "domain": false, "labels": false, "grid": true, "gridDash": [1, 3], "gridColor": "#222", "title": null, "zindex": 1}}, "y": {"field": "y", "type": "quantitative", "axis": null}, "detail": {"field": "r"}}},
   {"data": {"values": [{}]}, "mark": {"type": "rule", "color": "#000", "strokeDash": [2, 2], "strokeWidth": 1.5}, "encoding": {"x": {"datum": 1, "type": "quantitative", "axis": null}}},
   {"data": {"name": "fits"}, "transform": [{"filter": {"field": "r", "equal": "lWZ4"}}], "mark": {"type": "rule", "color": "#000", "strokeWidth": 2}, "encoding": {"x": {"field": "best", "type": "quantitative", "axis": null}}},
   {"data": {"values": [{}]}, "mark": {"type": "text", "text": "2 σ", "align": "right", "baseline": "top", "dx": -1, "dy": 0, "fontSize": 11, "color": "#e0a000"}, "encoding": {"x": {"datum": 2.87, "type": "quantitative", "axis": null}, "y": {"datum": 4, "type": "quantitative", "axis": null}}},
   {"data": {"values": [{}]}, "mark": {"type": "text", "text": "1σ", "align": "right", "baseline": "bottom", "dx": -1, "dy": 2, "fontSize": 11, "color": "#22aa22"}, "encoding": {"x": {"datum": 2.87, "type": "quantitative", "axis": null}, "y": {"datum": 1, "type": "quantitative", "axis": null}}}
  ]},
  {"width": 541, "height": 37.3, "resolve": {"axis": {"x": "independent"}}, "layer": [
   {"data": {"values": [{}]}, "mark": {"type": "rule", "color": "#ccbb44", "strokeDash": [1, 2], "strokeWidth": 1}, "encoding": {"y": {"datum": 4, "type": "quantitative", "scale": {"domain": [0, 5], "nice": false, "zero": false}, "axis": null}}},
   {"data": {"values": [{}]}, "mark": {"type": "rule", "color": "#33cc33", "strokeDash": [1, 2], "strokeWidth": 1}, "encoding": {"y": {"datum": 1, "type": "quantitative", "axis": null}}},
   {"data": {"name": "curves"}, "transform": [{"filter": {"field": "r", "oneOf": ["lFZ4", "lFZ4b"]}}, {"filter": "datum.b > 0"}], "mark": {"type": "area", "opacity": 1, "interpolate": "monotone"}, "encoding": {"x": {"field": "x", "type": "quantitative", "scale": {"domain": [-1.2, 2.87], "nice": false, "zero": false}, "axis": {"orient": "bottom", "values": [-1,-0.8,-0.6,-0.4,-0.2,0,0.2,0.4,0.6,0.8,1,1.2,1.4,1.6,1.8,2,2.2,2.4,2.6,2.8], "offset": -4, "tickSize": 4, "tickColor": "#444", "domain": false, "labels": false, "grid": false, "title": null, "zindex": 1}}, "y": {"field": "y", "type": "quantitative", "axis": null}, "y2": {"datum": 5}, "detail": {"field": "r"}, "color": {"datum": "± 2σ"}}},
   {"data": {"name": "curves"}, "transform": [{"filter": {"field": "r", "oneOf": ["lFZ4", "lFZ4b"]}}, {"filter": "datum.b == 1"}], "mark": {"type": "area", "opacity": 1, "interpolate": "monotone"}, "encoding": {"x": {"field": "x", "type": "quantitative", "axis": {"orient": "bottom", "values": [-1,0,1,2], "offset": -9, "tickSize": 9, "tickColor": "#444", "domain": false, "labels": false, "grid": false, "title": null, "zindex": 1}}, "y": {"field": "y", "type": "quantitative", "axis": null}, "y2": {"datum": 5}, "detail": {"field": "r"}, "color": {"datum": "± 1σ"}}},
   {"data": {"name": "curves"}, "transform": [{"filter": {"field": "r", "oneOf": ["lFZ4", "lFZ4b"]}}], "mark": {"type": "line", "color": "#999", "strokeWidth": 1, "interpolate": "monotone"}, "encoding": {"x": {"field": "x", "type": "quantitative", "axis": {"orient": "bottom", "values": [-1,0,2], "ticks": false, "domain": false, "labels": false, "grid": true, "gridDash": [1, 3], "gridColor": "#222", "title": null, "zindex": 1}}, "y": {"field": "y", "type": "quantitative", "axis": null}, "detail": {"field": "r"}}},
   {"data": {"values": [{}]}, "mark": {"type": "rule", "color": "#000", "strokeDash": [2, 2], "strokeWidth": 1.5}, "encoding": {"x": {"datum": 1, "type": "quantitative", "axis": null}}},
   {"data": {"name": "fits"}, "transform": [{"filter": {"field": "r", "equal": "lFZ4"}}], "mark": {"type": "rule", "color": "#000", "strokeWidth": 2}, "encoding": {"x": {"field": "best", "type": "quantitative", "axis": null}}},
   {"data": {"values": [{}]}, "mark": {"type": "text", "text": "2 σ", "align": "right", "baseline": "top", "dx": -1, "dy": 0, "fontSize": 11, "color": "#e0a000"}, "encoding": {"x": {"datum": 2.87, "type": "quantitative", "axis": null}, "y": {"datum": 4, "type": "quantitative", "axis": null}}},
   {"data": {"values": [{}]}, "mark": {"type": "text", "text": "1σ", "align": "right", "baseline": "bottom", "dx": -1, "dy": 2, "fontSize": 11, "color": "#22aa22"}, "encoding": {"x": {"datum": 2.87, "type": "quantitative", "axis": null}, "y": {"datum": 1, "type": "quantitative", "axis": null}}}
  ]},
  {"width": 541, "height": 37.3, "resolve": {"axis": {"x": "independent"}}, "layer": [
   {"data": {"values": [{}]}, "mark": {"type": "rule", "color": "#ccbb44", "strokeDash": [1, 2], "strokeWidth": 1}, "encoding": {"y": {"datum": 4, "type": "quantitative", "scale": {"domain": [0, 5], "nice": false, "zero": false}, "axis": null}}},
   {"data": {"values": [{}]}, "mark": {"type": "rule", "color": "#33cc33", "strokeDash": [1, 2], "strokeWidth": 1}, "encoding": {"y": {"datum": 1, "type": "quantitative", "axis": null}}},
   {"data": {"name": "curves"}, "transform": [{"filter": {"field": "r", "equal": "kZZ4"}}, {"filter": "datum.b > 0"}], "mark": {"type": "area", "opacity": 1, "interpolate": "monotone"}, "encoding": {"x": {"field": "x", "type": "quantitative", "scale": {"domain": [-1.2, 2.87], "nice": false, "zero": false}, "axis": {"orient": "bottom", "values": [-1,-0.8,-0.6,-0.4,-0.2,0,0.2,0.4,0.6,0.8,1,1.2,1.4,1.6,1.8,2,2.2,2.4,2.6,2.8], "offset": -4, "tickSize": 4, "tickColor": "#444", "domain": false, "labels": false, "grid": false, "title": null, "zindex": 1}}, "y": {"field": "y", "type": "quantitative", "axis": null}, "y2": {"datum": 5}, "detail": {"field": "r"}, "color": {"datum": "± 2σ"}}},
   {"data": {"name": "curves"}, "transform": [{"filter": {"field": "r", "equal": "kZZ4"}}, {"filter": "datum.b == 1"}], "mark": {"type": "area", "opacity": 1, "interpolate": "monotone"}, "encoding": {"x": {"field": "x", "type": "quantitative", "axis": {"orient": "bottom", "values": [-1,0,1,2], "offset": -9, "tickSize": 9, "tickColor": "#444", "domain": false, "labels": false, "grid": false, "title": null, "zindex": 1}}, "y": {"field": "y", "type": "quantitative", "axis": null}, "y2": {"datum": 5}, "detail": {"field": "r"}, "color": {"datum": "± 1σ"}}},
   {"data": {"name": "curves"}, "transform": [{"filter": {"field": "r", "equal": "kZZ4"}}], "mark": {"type": "line", "color": "#999", "strokeWidth": 1, "interpolate": "monotone"}, "encoding": {"x": {"field": "x", "type": "quantitative", "axis": {"orient": "bottom", "values": [-1,0,2], "ticks": false, "domain": false, "labels": false, "grid": true, "gridDash": [1, 3], "gridColor": "#222", "title": null, "zindex": 1}}, "y": {"field": "y", "type": "quantitative", "axis": null}, "detail": {"field": "r"}}},
   {"data": {"values": [{}]}, "mark": {"type": "rule", "color": "#000", "strokeDash": [2, 2], "strokeWidth": 1.5}, "encoding": {"x": {"datum": 1, "type": "quantitative", "axis": null}}},
   {"data": {"name": "fits"}, "transform": [{"filter": {"field": "r", "equal": "kZZ4"}}], "mark": {"type": "rule", "color": "#000", "strokeWidth": 2}, "encoding": {"x": {"field": "best", "type": "quantitative", "axis": null}}},
   {"data": {"values": [{}]}, "mark": {"type": "text", "text": "2 σ", "align": "right", "baseline": "top", "dx": -1, "dy": 0, "fontSize": 11, "color": "#e0a000"}, "encoding": {"x": {"datum": 2.87, "type": "quantitative", "axis": null}, "y": {"datum": 4, "type": "quantitative", "axis": null}}},
   {"data": {"values": [{}]}, "mark": {"type": "text", "text": "1σ", "align": "right", "baseline": "bottom", "dx": -1, "dy": 2, "fontSize": 11, "color": "#22aa22"}, "encoding": {"x": {"datum": 2.87, "type": "quantitative", "axis": null}, "y": {"datum": 1, "type": "quantitative", "axis": null}}}
  ]}
 ]}
]},
{"spacing": 0, "bounds": "flush", "hconcat": [
 {"width": 63, "height": 149.2, "data": {"name": "labels"}, "transform": [{"filter": {"field": "g", "equal": 5}}],
  "encoding": {"y": {"field": "r", "type": "nominal", "sort": null, "axis": null}},
  "layer": [
   {"mark": {"type": "text", "align": "right", "baseline": "alphabetic", "dx": 27, "dy": 16, "fontSize": 17}, "encoding": {"text": {"field": "sub"}}},
   {"transform": [{"filter": "length(datum.sub) == 1"}], "mark": {"type": "text", "align": "right", "baseline": "alphabetic", "dx": 16, "dy": 8, "fontSize": 36, "font": "Liberation Serif"}, "encoding": {"text": {"field": "sym"}}},
   {"transform": [{"filter": "length(datum.sub) == 2 && datum.sub != 'WZ'"}], "mark": {"type": "text", "align": "right", "baseline": "alphabetic", "dx": 5, "dy": 8, "fontSize": 36, "font": "Liberation Serif"}, "encoding": {"text": {"field": "sym"}}},
   {"transform": [{"filter": "datum.sub == 'WZ'"}], "mark": {"type": "text", "align": "right", "baseline": "alphabetic", "dx": 0, "dy": 8, "fontSize": 36, "font": "Liberation Serif"}, "encoding": {"text": {"field": "sym"}}}
  ]},
 {"spacing": 0, "bounds": "flush", "vconcat": [
  {"width": 541, "height": 37.3, "resolve": {"axis": {"x": "independent"}}, "layer": [
   {"data": {"values": [{}]}, "mark": {"type": "rule", "color": "#ccbb44", "strokeDash": [1, 2], "strokeWidth": 1}, "encoding": {"y": {"datum": 4, "type": "quantitative", "scale": {"domain": [0, 5], "nice": false, "zero": false}, "axis": null}}},
   {"data": {"values": [{}]}, "mark": {"type": "rule", "color": "#33cc33", "strokeDash": [1, 2], "strokeWidth": 1}, "encoding": {"y": {"datum": 1, "type": "quantitative", "axis": null}}},
   {"data": {"name": "curves"}, "transform": [{"filter": {"field": "r", "equal": "lWZ5"}}, {"filter": "datum.b > 0"}], "mark": {"type": "area", "opacity": 1, "interpolate": "monotone"}, "encoding": {"x": {"field": "x", "type": "quantitative", "scale": {"domain": [-1.2, 2.87], "nice": false, "zero": false}, "axis": {"orient": "bottom", "values": [-1,-0.8,-0.6,-0.4,-0.2,0,0.2,0.4,0.6,0.8,1,1.2,1.4,1.6,1.8,2,2.2,2.4,2.6,2.8], "offset": -4, "tickSize": 4, "tickColor": "#444", "domain": false, "labels": false, "grid": false, "title": null, "zindex": 1}}, "y": {"field": "y", "type": "quantitative", "axis": null}, "y2": {"datum": 5}, "detail": {"field": "r"}, "color": {"datum": "± 2σ"}}},
   {"data": {"name": "curves"}, "transform": [{"filter": {"field": "r", "equal": "lWZ5"}}, {"filter": "datum.b == 1"}], "mark": {"type": "area", "opacity": 1, "interpolate": "monotone"}, "encoding": {"x": {"field": "x", "type": "quantitative", "axis": {"orient": "bottom", "values": [-1,0,1,2], "offset": -9, "tickSize": 9, "tickColor": "#444", "domain": false, "labels": false, "grid": false, "title": null, "zindex": 1}}, "y": {"field": "y", "type": "quantitative", "axis": null}, "y2": {"datum": 5}, "detail": {"field": "r"}, "color": {"datum": "± 1σ"}}},
   {"data": {"name": "curves"}, "transform": [{"filter": {"field": "r", "equal": "lWZ5"}}], "mark": {"type": "line", "color": "#999", "strokeWidth": 1, "interpolate": "monotone"}, "encoding": {"x": {"field": "x", "type": "quantitative", "axis": {"orient": "bottom", "values": [-1,0,2], "ticks": false, "domain": false, "labels": false, "grid": true, "gridDash": [1, 3], "gridColor": "#222", "title": null, "zindex": 1}}, "y": {"field": "y", "type": "quantitative", "axis": null}, "detail": {"field": "r"}}},
   {"data": {"values": [{}]}, "mark": {"type": "rule", "color": "#000", "strokeDash": [2, 2], "strokeWidth": 1.5}, "encoding": {"x": {"datum": 1, "type": "quantitative", "axis": null}}},
   {"data": {"name": "fits"}, "transform": [{"filter": {"field": "r", "equal": "lWZ5"}}], "mark": {"type": "rule", "color": "#000", "strokeWidth": 2}, "encoding": {"x": {"field": "best", "type": "quantitative", "axis": null}}},
   {"data": {"values": [{}]}, "mark": {"type": "text", "text": "2 σ", "align": "right", "baseline": "top", "dx": -1, "dy": 0, "fontSize": 11, "color": "#e0a000"}, "encoding": {"x": {"datum": 2.87, "type": "quantitative", "axis": null}, "y": {"datum": 4, "type": "quantitative", "axis": null}}},
   {"data": {"values": [{}]}, "mark": {"type": "text", "text": "1σ", "align": "right", "baseline": "bottom", "dx": -1, "dy": 2, "fontSize": 11, "color": "#22aa22"}, "encoding": {"x": {"datum": 2.87, "type": "quantitative", "axis": null}, "y": {"datum": 1, "type": "quantitative", "axis": null}}}
  ]},
  {"width": 541, "height": 37.3, "resolve": {"axis": {"x": "independent"}}, "layer": [
   {"data": {"values": [{}]}, "mark": {"type": "rule", "color": "#ccbb44", "strokeDash": [1, 2], "strokeWidth": 1}, "encoding": {"y": {"datum": 4, "type": "quantitative", "scale": {"domain": [0, 5], "nice": false, "zero": false}, "axis": null}}},
   {"data": {"values": [{}]}, "mark": {"type": "rule", "color": "#33cc33", "strokeDash": [1, 2], "strokeWidth": 1}, "encoding": {"y": {"datum": 1, "type": "quantitative", "axis": null}}},
   {"data": {"name": "curves"}, "transform": [{"filter": {"field": "r", "equal": "lgZ"}}, {"filter": "datum.b > 0"}], "mark": {"type": "area", "opacity": 1, "interpolate": "monotone"}, "encoding": {"x": {"field": "x", "type": "quantitative", "scale": {"domain": [-1.2, 2.87], "nice": false, "zero": false}, "axis": {"orient": "bottom", "values": [-1,-0.8,-0.6,-0.4,-0.2,0,0.2,0.4,0.6,0.8,1,1.2,1.4,1.6,1.8,2,2.2,2.4,2.6,2.8], "offset": -4, "tickSize": 4, "tickColor": "#444", "domain": false, "labels": false, "grid": false, "title": null, "zindex": 1}}, "y": {"field": "y", "type": "quantitative", "axis": null}, "y2": {"datum": 5}, "detail": {"field": "r"}, "color": {"datum": "± 2σ"}}},
   {"data": {"name": "curves"}, "transform": [{"filter": {"field": "r", "equal": "lgZ"}}, {"filter": "datum.b == 1"}], "mark": {"type": "area", "opacity": 1, "interpolate": "monotone"}, "encoding": {"x": {"field": "x", "type": "quantitative", "axis": {"orient": "bottom", "values": [-1,0,1,2], "offset": -9, "tickSize": 9, "tickColor": "#444", "domain": false, "labels": false, "grid": false, "title": null, "zindex": 1}}, "y": {"field": "y", "type": "quantitative", "axis": null}, "y2": {"datum": 5}, "detail": {"field": "r"}, "color": {"datum": "± 1σ"}}},
   {"data": {"name": "curves"}, "transform": [{"filter": {"field": "r", "equal": "lgZ"}}], "mark": {"type": "line", "color": "#999", "strokeWidth": 1, "interpolate": "monotone"}, "encoding": {"x": {"field": "x", "type": "quantitative", "axis": {"orient": "bottom", "values": [-1,0,2], "ticks": false, "domain": false, "labels": false, "grid": true, "gridDash": [1, 3], "gridColor": "#222", "title": null, "zindex": 1}}, "y": {"field": "y", "type": "quantitative", "axis": null}, "detail": {"field": "r"}}},
   {"data": {"values": [{}]}, "mark": {"type": "rule", "color": "#000", "strokeDash": [2, 2], "strokeWidth": 1.5}, "encoding": {"x": {"datum": 1, "type": "quantitative", "axis": null}}},
   {"data": {"name": "fits"}, "transform": [{"filter": {"field": "r", "equal": "lgZ"}}], "mark": {"type": "rule", "color": "#000", "strokeWidth": 2}, "encoding": {"x": {"field": "best", "type": "quantitative", "axis": null}}},
   {"data": {"values": [{}]}, "mark": {"type": "text", "text": "2 σ", "align": "right", "baseline": "top", "dx": -1, "dy": 0, "fontSize": 11, "color": "#e0a000"}, "encoding": {"x": {"datum": 2.87, "type": "quantitative", "axis": null}, "y": {"datum": 4, "type": "quantitative", "axis": null}}},
   {"data": {"values": [{}]}, "mark": {"type": "text", "text": "1σ", "align": "right", "baseline": "bottom", "dx": -1, "dy": 2, "fontSize": 11, "color": "#22aa22"}, "encoding": {"x": {"datum": 2.87, "type": "quantitative", "axis": null}, "y": {"datum": 1, "type": "quantitative", "axis": null}}}
  ]},
  {"width": 541, "height": 37.3, "resolve": {"axis": {"x": "independent"}}, "layer": [
   {"data": {"values": [{}]}, "mark": {"type": "rule", "color": "#ccbb44", "strokeDash": [1, 2], "strokeWidth": 1}, "encoding": {"y": {"datum": 4, "type": "quantitative", "scale": {"domain": [0, 5], "nice": false, "zero": false}, "axis": null}}},
   {"data": {"values": [{}]}, "mark": {"type": "rule", "color": "#33cc33", "strokeDash": [1, 2], "strokeWidth": 1}, "encoding": {"y": {"datum": 1, "type": "quantitative", "axis": null}}},
   {"data": {"name": "curves"}, "transform": [{"filter": {"field": "r", "equal": "lFZ5"}}, {"filter": "datum.b > 0"}], "mark": {"type": "area", "opacity": 1, "interpolate": "monotone"}, "encoding": {"x": {"field": "x", "type": "quantitative", "scale": {"domain": [-1.2, 2.87], "nice": false, "zero": false}, "axis": {"orient": "bottom", "values": [-1,-0.8,-0.6,-0.4,-0.2,0,0.2,0.4,0.6,0.8,1,1.2,1.4,1.6,1.8,2,2.2,2.4,2.6,2.8], "offset": -4, "tickSize": 4, "tickColor": "#444", "domain": false, "labels": false, "grid": false, "title": null, "zindex": 1}}, "y": {"field": "y", "type": "quantitative", "axis": null}, "y2": {"datum": 5}, "detail": {"field": "r"}, "color": {"datum": "± 2σ"}}},
   {"data": {"name": "curves"}, "transform": [{"filter": {"field": "r", "equal": "lFZ5"}}, {"filter": "datum.b == 1"}], "mark": {"type": "area", "opacity": 1, "interpolate": "monotone"}, "encoding": {"x": {"field": "x", "type": "quantitative", "axis": {"orient": "bottom", "values": [-1,0,1,2], "offset": -9, "tickSize": 9, "tickColor": "#444", "domain": false, "labels": false, "grid": false, "title": null, "zindex": 1}}, "y": {"field": "y", "type": "quantitative", "axis": null}, "y2": {"datum": 5}, "detail": {"field": "r"}, "color": {"datum": "± 1σ"}}},
   {"data": {"name": "curves"}, "transform": [{"filter": {"field": "r", "equal": "lFZ5"}}], "mark": {"type": "line", "color": "#999", "strokeWidth": 1, "interpolate": "monotone"}, "encoding": {"x": {"field": "x", "type": "quantitative", "axis": {"orient": "bottom", "values": [-1,0,2], "ticks": false, "domain": false, "labels": false, "grid": true, "gridDash": [1, 3], "gridColor": "#222", "title": null, "zindex": 1}}, "y": {"field": "y", "type": "quantitative", "axis": null}, "detail": {"field": "r"}}},
   {"data": {"values": [{}]}, "mark": {"type": "rule", "color": "#000", "strokeDash": [2, 2], "strokeWidth": 1.5}, "encoding": {"x": {"datum": 1, "type": "quantitative", "axis": null}}},
   {"data": {"name": "fits"}, "transform": [{"filter": {"field": "r", "equal": "lFZ5"}}], "mark": {"type": "rule", "color": "#000", "strokeWidth": 2}, "encoding": {"x": {"field": "best", "type": "quantitative", "axis": null}}},
   {"data": {"values": [{}]}, "mark": {"type": "text", "text": "2 σ", "align": "right", "baseline": "top", "dx": -1, "dy": 0, "fontSize": 11, "color": "#e0a000"}, "encoding": {"x": {"datum": 2.87, "type": "quantitative", "axis": null}, "y": {"datum": 4, "type": "quantitative", "axis": null}}},
   {"data": {"values": [{}]}, "mark": {"type": "text", "text": "1σ", "align": "right", "baseline": "bottom", "dx": -1, "dy": 2, "fontSize": 11, "color": "#22aa22"}, "encoding": {"x": {"datum": 2.87, "type": "quantitative", "axis": null}, "y": {"datum": 1, "type": "quantitative", "axis": null}}}
  ]},
  {"width": 541, "height": 37.3, "resolve": {"axis": {"x": "independent"}}, "layer": [
   {"data": {"values": [{}]}, "mark": {"type": "rule", "color": "#ccbb44", "strokeDash": [1, 2], "strokeWidth": 1}, "encoding": {"y": {"datum": 4, "type": "quantitative", "scale": {"domain": [0, 5], "nice": false, "zero": false}, "axis": null}}},
   {"data": {"values": [{}]}, "mark": {"type": "rule", "color": "#33cc33", "strokeDash": [1, 2], "strokeWidth": 1}, "encoding": {"y": {"datum": 1, "type": "quantitative", "axis": null}}},
   {"data": {"name": "curves"}, "transform": [{"filter": {"field": "r", "equal": "kZZ5"}}, {"filter": "datum.b > 0"}], "mark": {"type": "area", "opacity": 1, "interpolate": "monotone"}, "encoding": {"x": {"field": "x", "type": "quantitative", "scale": {"domain": [-1.2, 2.87], "nice": false, "zero": false}, "axis": {"orient": "bottom", "values": [-1,-0.8,-0.6,-0.4,-0.2,0,0.2,0.4,0.6,0.8,1,1.2,1.4,1.6,1.8,2,2.2,2.4,2.6,2.8], "offset": -4, "tickSize": 4, "tickColor": "#444", "domain": false, "labels": false, "grid": false, "title": null, "zindex": 1}}, "y": {"field": "y", "type": "quantitative", "axis": null}, "y2": {"datum": 5}, "detail": {"field": "r"}, "color": {"datum": "± 2σ"}}},
   {"data": {"name": "curves"}, "transform": [{"filter": {"field": "r", "equal": "kZZ5"}}, {"filter": "datum.b == 1"}], "mark": {"type": "area", "opacity": 1, "interpolate": "monotone"}, "encoding": {"x": {"field": "x", "type": "quantitative", "axis": {"orient": "bottom", "values": [-1,0,1,2], "offset": -9, "tickSize": 9, "tickColor": "#444", "domain": false, "labels": false, "grid": false, "title": null, "zindex": 1}}, "y": {"field": "y", "type": "quantitative", "axis": null}, "y2": {"datum": 5}, "detail": {"field": "r"}, "color": {"datum": "± 1σ"}}},
   {"data": {"name": "curves"}, "transform": [{"filter": {"field": "r", "equal": "kZZ5"}}], "mark": {"type": "line", "color": "#999", "strokeWidth": 1, "interpolate": "monotone"}, "encoding": {"x": {"field": "x", "type": "quantitative", "axis": {"orient": "bottom", "values": [-1,0,2], "ticks": false, "domain": false, "labels": false, "grid": true, "gridDash": [1, 3], "gridColor": "#222", "title": null, "zindex": 1}}, "y": {"field": "y", "type": "quantitative", "axis": null}, "detail": {"field": "r"}}},
   {"data": {"values": [{}]}, "mark": {"type": "rule", "color": "#000", "strokeDash": [2, 2], "strokeWidth": 1.5}, "encoding": {"x": {"datum": 1, "type": "quantitative", "axis": null}}},
   {"data": {"name": "fits"}, "transform": [{"filter": {"field": "r", "equal": "kZZ5"}}], "mark": {"type": "rule", "color": "#000", "strokeWidth": 2}, "encoding": {"x": {"field": "best", "type": "quantitative", "axis": null}}},
   {"data": {"values": [{}]}, "mark": {"type": "text", "text": "2 σ", "align": "right", "baseline": "top", "dx": -1, "dy": 0, "fontSize": 11, "color": "#e0a000"}, "encoding": {"x": {"datum": 2.87, "type": "quantitative", "axis": null}, "y": {"datum": 4, "type": "quantitative", "axis": null}}},
   {"data": {"values": [{}]}, "mark": {"type": "text", "text": "1σ", "align": "right", "baseline": "bottom", "dx": -1, "dy": 2, "fontSize": 11, "color": "#22aa22"}, "encoding": {"x": {"datum": 2.87, "type": "quantitative", "axis": null}, "y": {"datum": 1, "type": "quantitative", "axis": null}}}
  ]}
 ]}
]},
{"spacing": 0, "bounds": "flush", "hconcat": [
 {"width": 63, "height": 74.6, "data": {"name": "labels"}, "transform": [{"filter": {"field": "g", "equal": 6}}],
  "encoding": {"y": {"field": "r", "type": "nominal", "sort": null, "axis": null}},
  "layer": [
   {"mark": {"type": "text", "align": "right", "baseline": "alphabetic", "dx": 27, "dy": 16, "fontSize": 17}, "encoding": {"text": {"field": "sub"}}},
   {"transform": [{"filter": "length(datum.sub) == 1"}], "mark": {"type": "text", "align": "right", "baseline": "alphabetic", "dx": 16, "dy": 8, "fontSize": 36, "font": "Liberation Serif"}, "encoding": {"text": {"field": "sym"}}},
   {"transform": [{"filter": "length(datum.sub) == 2 && datum.sub != 'WZ'"}], "mark": {"type": "text", "align": "right", "baseline": "alphabetic", "dx": 5, "dy": 8, "fontSize": 36, "font": "Liberation Serif"}, "encoding": {"text": {"field": "sym"}}},
   {"transform": [{"filter": "datum.sub == 'WZ'"}], "mark": {"type": "text", "align": "right", "baseline": "alphabetic", "dx": 0, "dy": 8, "fontSize": 36, "font": "Liberation Serif"}, "encoding": {"text": {"field": "sym"}}}
  ]},
 {"spacing": 0, "bounds": "flush", "vconcat": [
  {"width": 541, "height": 37.3, "resolve": {"axis": {"x": "independent"}}, "layer": [
   {"data": {"values": [{}]}, "mark": {"type": "rule", "color": "#ccbb44", "strokeDash": [1, 2], "strokeWidth": 1}, "encoding": {"y": {"datum": 4, "type": "quantitative", "scale": {"domain": [0, 5], "nice": false, "zero": false}, "axis": null}}},
   {"data": {"values": [{}]}, "mark": {"type": "rule", "color": "#33cc33", "strokeDash": [1, 2], "strokeWidth": 1}, "encoding": {"y": {"datum": 1, "type": "quantitative", "axis": null}}},
   {"data": {"name": "curves"}, "transform": [{"filter": {"field": "r", "equal": "kg"}}, {"filter": "datum.b > 0"}], "mark": {"type": "area", "opacity": 1, "interpolate": "monotone"}, "encoding": {"x": {"field": "x", "type": "quantitative", "scale": {"domain": [-1.2, 2.87], "nice": false, "zero": false}, "axis": {"orient": "bottom", "values": [-1,-0.8,-0.6,-0.4,-0.2,0,0.2,0.4,0.6,0.8,1,1.2,1.4,1.6,1.8,2,2.2,2.4,2.6,2.8], "offset": -4, "tickSize": 4, "tickColor": "#444", "domain": false, "labels": false, "grid": false, "title": null, "zindex": 1}}, "y": {"field": "y", "type": "quantitative", "axis": null}, "y2": {"datum": 5}, "detail": {"field": "r"}, "color": {"datum": "± 2σ"}}},
   {"data": {"name": "curves"}, "transform": [{"filter": {"field": "r", "equal": "kg"}}, {"filter": "datum.b == 1"}], "mark": {"type": "area", "opacity": 1, "interpolate": "monotone"}, "encoding": {"x": {"field": "x", "type": "quantitative", "axis": {"orient": "bottom", "values": [-1,0,1,2], "offset": -9, "tickSize": 9, "tickColor": "#444", "domain": false, "labels": false, "grid": false, "title": null, "zindex": 1}}, "y": {"field": "y", "type": "quantitative", "axis": null}, "y2": {"datum": 5}, "detail": {"field": "r"}, "color": {"datum": "± 1σ"}}},
   {"data": {"name": "curves"}, "transform": [{"filter": {"field": "r", "equal": "kg"}}], "mark": {"type": "line", "color": "#999", "strokeWidth": 1, "interpolate": "monotone"}, "encoding": {"x": {"field": "x", "type": "quantitative", "axis": {"orient": "bottom", "values": [-1,0,2], "ticks": false, "domain": false, "labels": false, "grid": true, "gridDash": [1, 3], "gridColor": "#222", "title": null, "zindex": 1}}, "y": {"field": "y", "type": "quantitative", "axis": null}, "detail": {"field": "r"}}},
   {"data": {"values": [{}]}, "mark": {"type": "rule", "color": "#000", "strokeDash": [2, 2], "strokeWidth": 1.5}, "encoding": {"x": {"datum": 1, "type": "quantitative", "axis": null}}},
   {"data": {"name": "fits"}, "transform": [{"filter": {"field": "r", "equal": "kg"}}], "mark": {"type": "rule", "color": "#000", "strokeWidth": 2}, "encoding": {"x": {"field": "best", "type": "quantitative", "axis": null}}},
   {"data": {"values": [{}]}, "mark": {"type": "text", "text": "2 σ", "align": "right", "baseline": "top", "dx": -1, "dy": 0, "fontSize": 11, "color": "#e0a000"}, "encoding": {"x": {"datum": 2.87, "type": "quantitative", "axis": null}, "y": {"datum": 4, "type": "quantitative", "axis": null}}},
   {"data": {"values": [{}]}, "mark": {"type": "text", "text": "1σ", "align": "right", "baseline": "bottom", "dx": -1, "dy": 2, "fontSize": 11, "color": "#22aa22"}, "encoding": {"x": {"datum": 2.87, "type": "quantitative", "axis": null}, "y": {"datum": 1, "type": "quantitative", "axis": null}}}
  ]},
  {"width": 541, "height": 37.3, "resolve": {"axis": {"x": "independent"}}, "layer": [
   {"data": {"values": [{}]}, "mark": {"type": "rule", "color": "#ccbb44", "strokeDash": [1, 2], "strokeWidth": 1}, "encoding": {"y": {"datum": 4, "type": "quantitative", "scale": {"domain": [0, 5], "nice": false, "zero": false}, "axis": null}}},
   {"data": {"values": [{}]}, "mark": {"type": "rule", "color": "#33cc33", "strokeDash": [1, 2], "strokeWidth": 1}, "encoding": {"y": {"datum": 1, "type": "quantitative", "axis": null}}},
   {"data": {"name": "curves"}, "transform": [{"filter": {"field": "r", "equal": "kgam"}}, {"filter": "datum.b > 0"}], "mark": {"type": "area", "opacity": 1, "interpolate": "monotone"}, "encoding": {"x": {"field": "x", "type": "quantitative", "scale": {"domain": [-1.2, 2.87], "nice": false, "zero": false}, "axis": {"orient": "bottom", "values": [-1,-0.8,-0.6,-0.4,-0.2,0,0.2,0.4,0.6,0.8,1,1.2,1.4,1.6,1.8,2,2.2,2.4,2.6,2.8], "offset": -4, "tickSize": 4, "tickColor": "#444", "domain": false, "labels": false, "grid": false, "title": null, "zindex": 1}}, "y": {"field": "y", "type": "quantitative", "axis": null}, "y2": {"datum": 5}, "detail": {"field": "r"}, "color": {"datum": "± 2σ"}}},
   {"data": {"name": "curves"}, "transform": [{"filter": {"field": "r", "equal": "kgam"}}, {"filter": "datum.b == 1"}], "mark": {"type": "area", "opacity": 1, "interpolate": "monotone"}, "encoding": {"x": {"field": "x", "type": "quantitative", "axis": {"orient": "bottom", "values": [-1,0,1,2], "offset": -9, "tickSize": 9, "tickColor": "#444", "domain": false, "labels": true, "labelFontSize": 32, "labelPadding": 6, "labelColor": "#000", "grid": false, "title": null, "zindex": 1}}, "y": {"field": "y", "type": "quantitative", "axis": null}, "y2": {"datum": 5}, "detail": {"field": "r"}, "color": {"datum": "± 1σ"}}},
   {"data": {"name": "curves"}, "transform": [{"filter": {"field": "r", "equal": "kgam"}}], "mark": {"type": "line", "color": "#999", "strokeWidth": 1, "interpolate": "monotone"}, "encoding": {"x": {"field": "x", "type": "quantitative", "axis": {"orient": "bottom", "values": [-1,0,2], "ticks": false, "domain": false, "labels": false, "grid": true, "gridDash": [1, 3], "gridColor": "#222", "title": null, "zindex": 1}}, "y": {"field": "y", "type": "quantitative", "axis": null}, "detail": {"field": "r"}}},
   {"data": {"values": [{}]}, "mark": {"type": "rule", "color": "#000", "strokeDash": [2, 2], "strokeWidth": 1.5}, "encoding": {"x": {"datum": 1, "type": "quantitative", "axis": null}}},
   {"data": {"name": "fits"}, "transform": [{"filter": {"field": "r", "equal": "kgam"}}], "mark": {"type": "rule", "color": "#000", "strokeWidth": 2}, "encoding": {"x": {"field": "best", "type": "quantitative", "axis": null}}},
   {"data": {"values": [{}]}, "mark": {"type": "text", "text": "2 σ", "align": "right", "baseline": "top", "dx": -1, "dy": 0, "fontSize": 11, "color": "#e0a000"}, "encoding": {"x": {"datum": 2.87, "type": "quantitative", "axis": null}, "y": {"datum": 4, "type": "quantitative", "axis": null}}},
   {"data": {"values": [{}]}, "mark": {"type": "text", "text": "1σ", "align": "right", "baseline": "bottom", "dx": -1, "dy": 2, "fontSize": 11, "color": "#22aa22"}, "encoding": {"x": {"datum": 2.87, "type": "quantitative", "axis": null}, "y": {"datum": 1, "type": "quantitative", "axis": null}}}
  ]}
 ]}
]},
{"width": 604, "height": 64, "view": {"stroke": null}, "data": {"values": [{}]},
 "layer": [
  {"mark": {"type": "text", "text": "√s = 7 TeV ∫Ldt = 4.6-4.8 fb⁻¹", "align": "left", "baseline": "alphabetic", "dx": -302, "dy": -11, "fontSize": 13}, "encoding": {}},
  {"mark": {"type": "text", "text": "√s = 8 TeV ∫Ldt = 20.7 fb⁻¹", "align": "left", "baseline": "alphabetic", "dx": -302, "dy": 16, "fontSize": 13}, "encoding": {}},
  {"mark": {"type": "text", "text": "Parameter value", "align": "right", "baseline": "alphabetic", "dx": 300, "dy": -8, "fontSize": 24}, "encoding": {}},
  {"mark": {"type": "text", "text": "Combined H → γγ, ZZ*, WW*", "align": "right", "baseline": "alphabetic", "dx": 300, "dy": 20, "fontSize": 23}, "encoding": {}}
 ]}
]
}
